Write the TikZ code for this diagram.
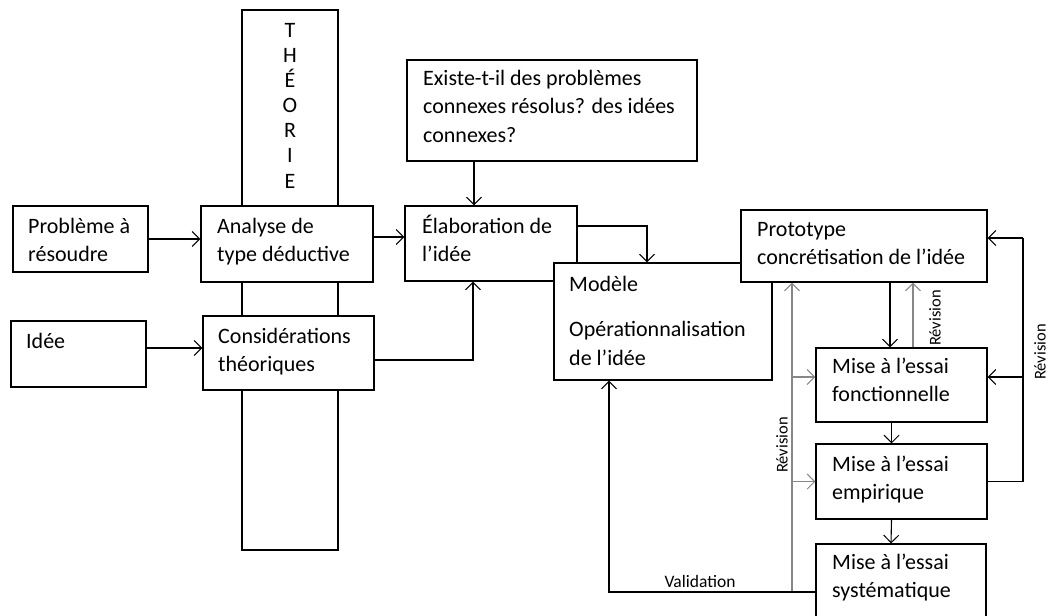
\documentclass[tikz,border=0pt]{standalone}
\usepackage{fontspec}
\setmainfont{Carlito}
\usetikzlibrary{arrows.meta,calc}
\newcommand\drawbox[5]{\node[box, minimum width={(#4-#2)*1pt}, minimum height={(#5-#3)*1pt}] (#1) at ({(#2+#4)/2},{(#3+#5)/2}) {};}
\newcommand\twol[2]{\vtop{\hbox{#1}\hbox{#2}}}
\newcommand\thrl[3]{\vtop{\hbox{#1}\hbox{#2}\hbox{#3}}}
\newcommand\cl[1]{\hbox to 0pt{\hss#1\hss}}
\definecolor{lgray}{RGB}{135,135,135}
\begin{document}
\begin{tikzpicture}[x=1pt,y=-1pt,
  box/.style={draw, line width=1.2pt, fill=white, inner sep=0pt, rectangle},
  txt/.style={anchor=base west, inner sep=0pt, font=\fontsize{22}{28.5}\selectfont},
  arr/.style={line width=1.1pt, -{Straight Barb[length=7.5pt,width=15pt,line width=1pt]}},
  garr/.style={arr, draw=lgray},
  ln/.style={line width=1.1pt},
  small/.style={font=\fontsize{16.5}{18}\selectfont, inner sep=0pt}
]
\useasboundingbox (0,0) rectangle (1050,616);
\clip (0,0) rectangle (1050,616);
\fill[white] (0,0) rectangle (1050,616);

% theory column
\drawbox{theo}{242}{10}{338}{550}
\node[anchor=base, inner sep=0pt, font=\fontsize{22}{25.17}\selectfont] (theotxt) at (290,37)
  {\vtop{\cl{T}\cl{H}\cl{É}\cl{O}\cl{R}\cl{I}\cl{E}}};

% boxes
\drawbox{prob}{13}{206}{148}{272}
\drawbox{anal}{201}{206}{373}{282}
\drawbox{idee}{11}{321}{146}{387}
\drawbox{cons}{203}{316}{374}{390}
\drawbox{exist}{407}{60}{697}{161}
\drawbox{elab}{405}{206}{577}{281}
\drawbox{mod}{554}{263}{772}{380}
\drawbox{proto}{741}{210}{987}{282}
\drawbox{fonct}{816}{348}{987}{422}
\drawbox{emp}{816}{444}{987}{519}
\drawbox{syst}{816}{544}{986}{640}

% texts
\node[txt] (probtxt) at (28,233) {\twol{Problème à}{résoudre}};
\node[txt] (analtxt) at (217,233) {\twol{Analyse de}{type déductive}};
\node[txt] (ideetxt) at (26,348) {Idée};
\node[txt] (constxt) at (218,343) {\twol{Considérations}{théoriques}};
\node[txt] (existtxt) at (423,85) {\thrl{Existe-t-il des problèmes}{connexes résolus? des idées}{connexes?}};
\node[txt] (elabtxt) at (422,233) {\twol{Élaboration de}{l’idée}};
\node[txt] (modtxt) at (569,291) {\vtop{\hbox{Modèle}\vskip 17pt\hbox{Opérationnalisation}\hbox{de l’idée}}};
\node[txt] (prototxt) at (757,236) {\twol{Prototype}{concrétisation de l’idée}};
\node[txt] (fonctxt) at (832,373) {\twol{Mise à l’essai}{fonctionnelle}};
\node[txt] (emptxt) at (832,471) {\twol{Mise à l’essai}{empirique}};
\node[txt] (systtxt) at (832,569) {\twol{Mise à l’essai}{systématique}};

% connectors left part
\draw[arr] (prob.east) -- (prob.east -| anal.west);
\draw[arr] ([yshift=6pt]idee.east) -- ([yshift=6pt]idee.east -| cons.west);
\draw[arr] ([yshift=7pt]anal.east) -- ([yshift=7pt]anal.east -| elab.west);
\draw[arr] ([yshift=-7pt]cons.east) -| ([xshift=-18pt]elab.south);
\draw[arr] ([xshift=-17pt]elab.north |- exist.south) -- ([xshift=-17pt]elab.north);
\draw[arr] ([yshift=17.5pt]elab.east) -| ([xshift=-16pt]mod.north);

% right part
\draw[arr] ([xshift=-11.5pt]fonct.north |- proto.south) -- ([xshift=-11.5pt]fonct.north);
\draw[garr] ([xshift=11.5pt]fonct.north) -- ([xshift=11.5pt]fonct.north |- proto.south);
\draw[arr] ([xshift=-10pt]fonct.south) -- ([xshift=-10pt]emp.north);
\draw[arr] ([xshift=-10pt]emp.south) -- ([xshift=-10pt]syst.north);

\coordinate (rx) at (1023,0);
\draw[ln] (emp.east) -| ([yshift=8pt]proto.east -| rx);
\draw[arr] ([yshift=8pt]proto.east -| rx) -- ([yshift=8pt]proto.east);
\draw[arr] ([yshift=8pt]fonct.east -| rx) -- ([yshift=8pt]fonct.east);

\coordinate (lx) at (792,0);
\draw[garr] (syst.west -| lx) -- (proto.south -| lx);
\draw[garr] ([yshift=8pt]fonct.west -| lx) -- ([yshift=8pt]fonct.west);
\draw[garr] (emp.west -| lx) -- (emp.west);

\draw[arr] (syst.west) -| ([xshift=-54pt]mod.south);

% labels
\node[small, rotate=90] (rev1) at (935,318) {Révision};
\node[small, rotate=90] (rev2) at (1040,352) {Révision};
\node[small, rotate=90] (rev3) at (782,445) {Révision};
\node[anchor=base, inner sep=0pt, font=\fontsize{17.5}{20}\selectfont] (valid) at (700,587) {Validation};
\end{tikzpicture}
\end{document}
